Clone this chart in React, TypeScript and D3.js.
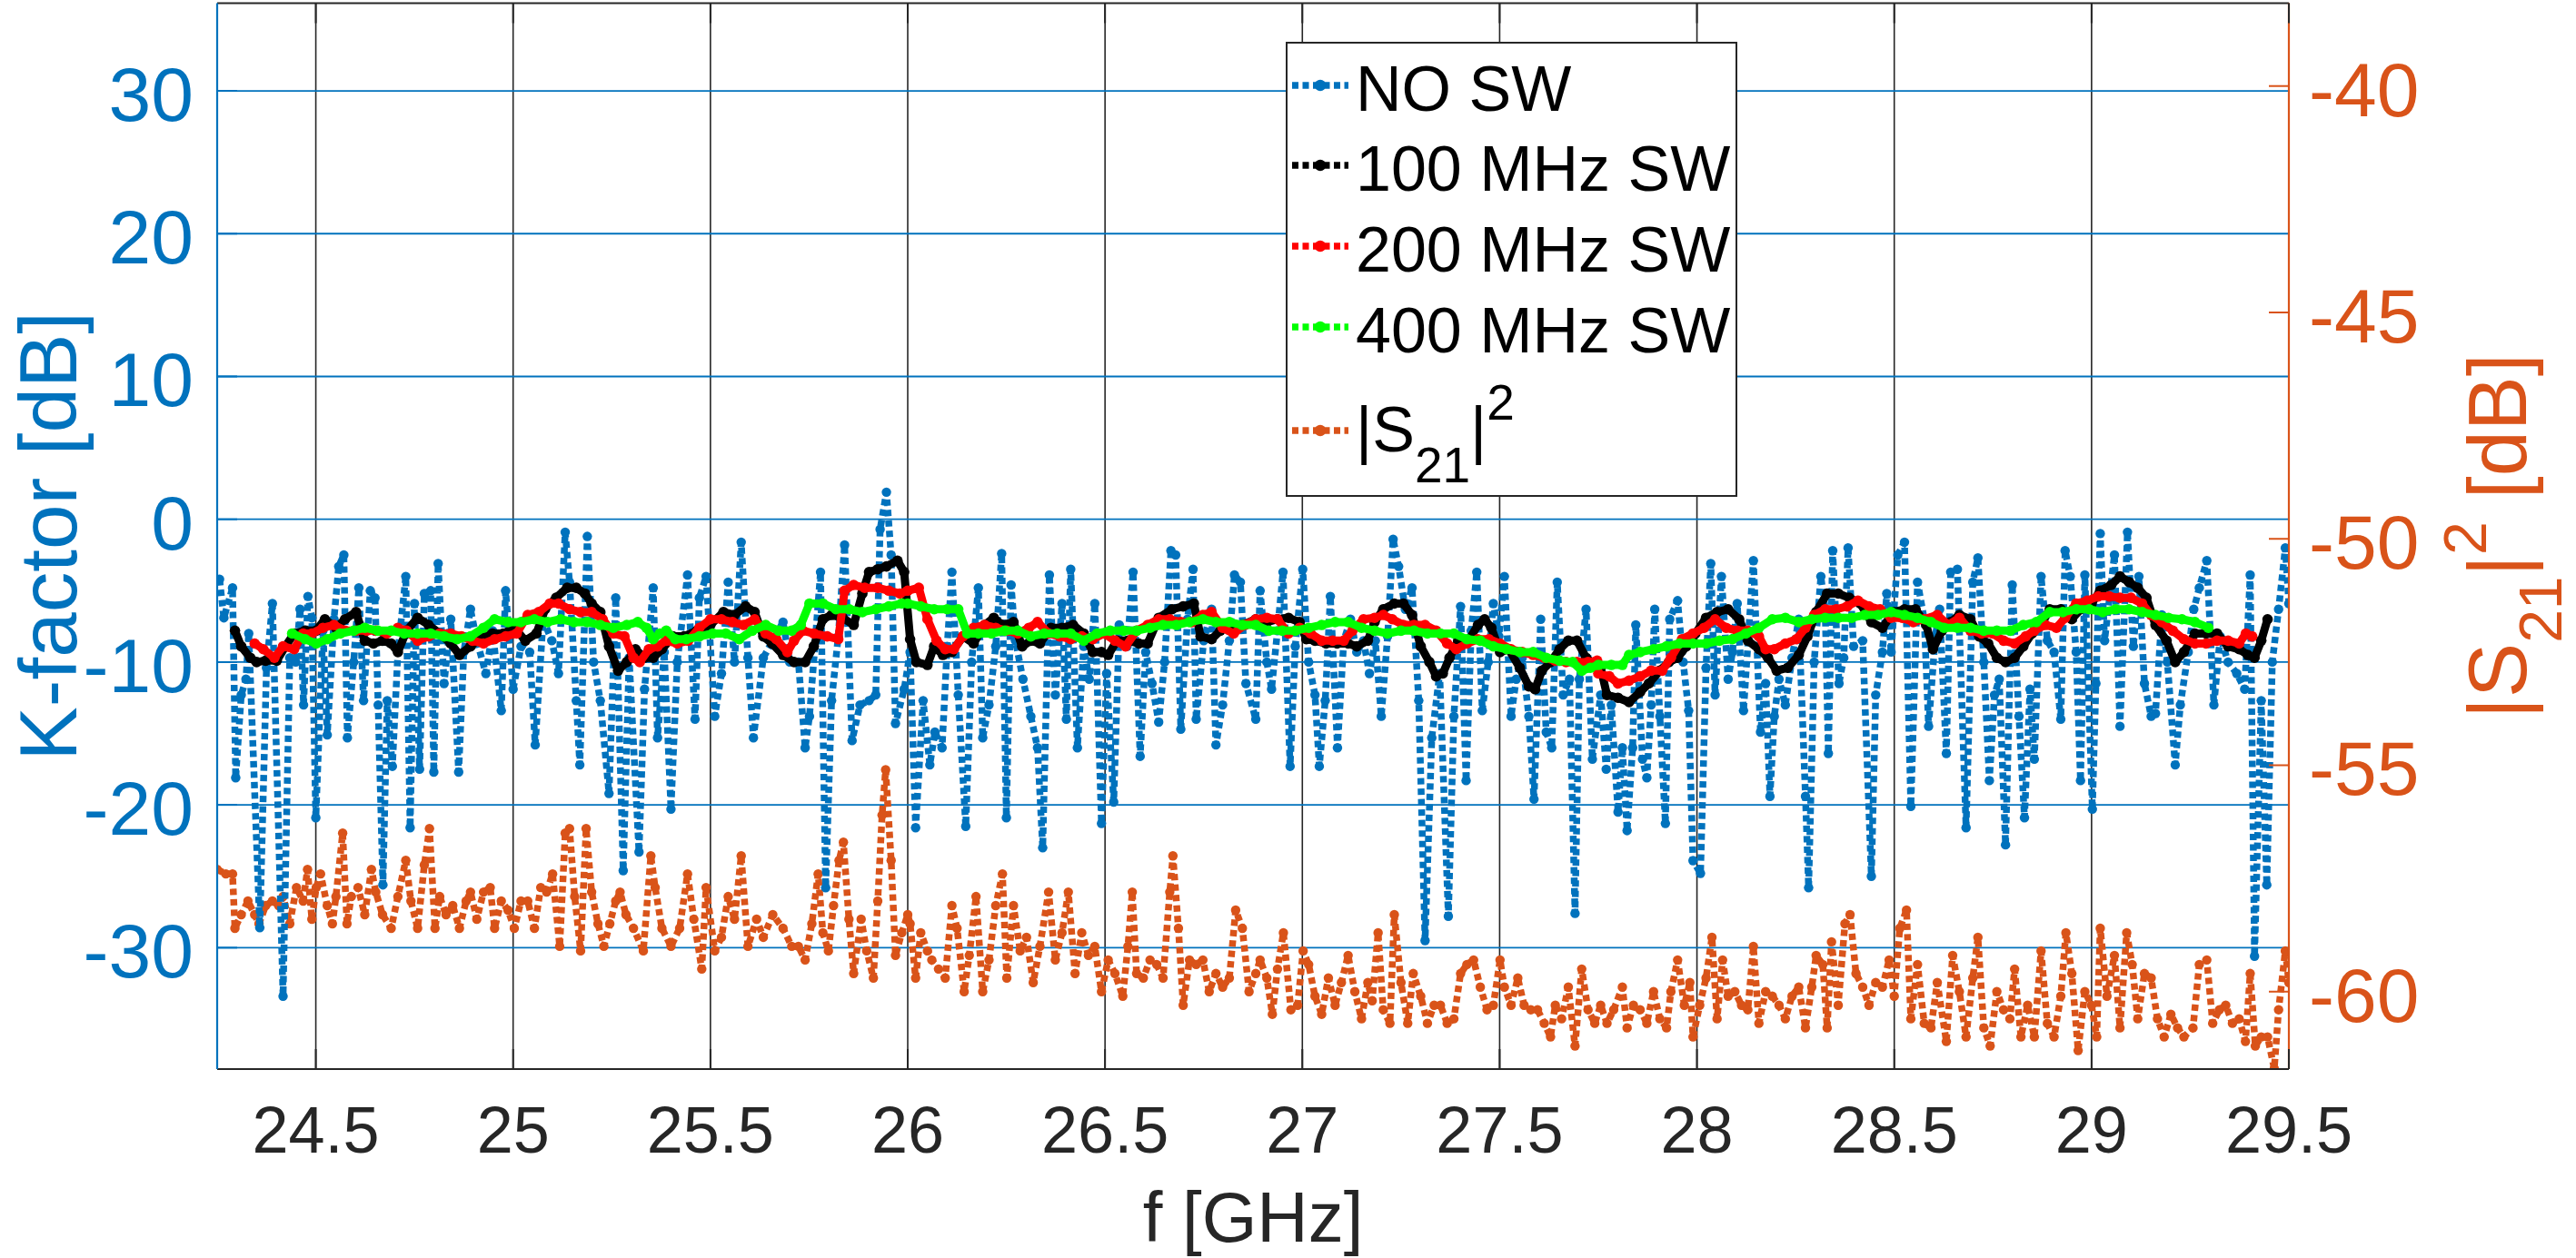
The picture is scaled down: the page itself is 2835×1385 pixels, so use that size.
import React from 'react';
import * as d3 from 'd3';

type P = [number, number];

// ---------- axes / ticks ----------
const xDomain: [number, number] = [24.25, 29.5];
const yLeftDomain: [number, number] = [-38.5, 36.14];
const yRightDomain: [number, number] = [-61.71, -38.17];
const xTicks = [24.5, 25, 25.5, 26, 26.5, 27, 27.5, 28, 28.5, 29, 29.5];
const yLeftTicks = [-30, -20, -10, 0, 10, 20, 30];
const yRightTicks = [-60, -55, -50, -45, -40];

const legendLabels = ['NO SW', '100 MHz SW', '200 MHz SW', '400 MHz SW'];

// ---------- data: K-factor without sliding window [GHz, dB] ----------
const noSW: P[] = [
  [24.256,-4.2],[24.267,-6.9],[24.289,-4.8],[24.297,-18.1],[24.311,-12.3],[24.323,-11.2],[24.330,-8.0],[24.358,-28.6],[24.375,-10.4],[24.390,-5.9],
  [24.417,-33.4],[24.434,-9.7],[24.449,-10.0],[24.460,-6.3],[24.469,-13.0],[24.480,-5.4],[24.490,-6.9],[24.500,-20.9],[24.518,-7.8],[24.529,-15.1],
  [24.546,-7.0],[24.558,-3.3],[24.571,-2.5],[24.580,-15.3],[24.596,-10.0],[24.609,-4.8],[24.621,-12.7],[24.638,-5.0],[24.650,-5.5],[24.658,-13.0],
  [24.670,-25.6],[24.681,-12.7],[24.694,-17.3],[24.708,-9.3],[24.728,-4.0],[24.739,-21.6],[24.750,-5.9],[24.763,-17.5],[24.775,-5.2],[24.791,-5.0],
  [24.799,-17.7],[24.810,-3.1],[24.825,-11.5],[24.842,-7.0],[24.862,-17.7],[24.875,-9.3],[24.892,-6.3],[24.908,-8.5],[24.931,-10.8],[24.948,-7.8],
  [24.970,-13.4],[24.981,-5.0],[25.000,-11.9],[25.020,-8.9],[25.042,-9.3],[25.056,-15.8],[25.076,-7.0],[25.098,-8.5],[25.115,-10.8],[25.132,-0.9],
  [25.143,-4.4],[25.160,-12.7],[25.169,-17.2],[25.188,-1.2],[25.204,-10.0],[25.221,-12.7],[25.243,-19.2],[25.260,-5.5],[25.279,-24.6],[25.294,-9.7],
  [25.319,-23.3],[25.333,-11.9],[25.355,-4.8],[25.366,-15.3],[25.383,-9.3],[25.400,-20.3],[25.416,-10.0],[25.442,-3.9],[25.461,-14.0],[25.472,-5.5],
  [25.489,-4.0],[25.511,-13.8],[25.528,-10.8],[25.545,-4.4],[25.561,-10.0],[25.578,-1.6],[25.595,-9.7],[25.609,-15.3],[25.634,-9.7],[25.658,-8.5],
  [25.684,-7.2],[25.701,-10.0],[25.723,-10.0],[25.740,-16.0],[25.751,-13.8],[25.779,-3.7],[25.792,-25.8],[25.807,-12.7],[25.824,-8.2],[25.840,-1.8],
  [25.859,-15.5],[25.879,-13.0],[25.902,-12.7],[25.919,-12.3],[25.930,-0.7],[25.946,1.9],[25.958,-2.5],[25.969,-14.3],[25.991,-11.9],
  [26.006,-9.3],[26.020,-21.6],[26.039,-12.7],[26.056,-17.2],[26.069,-14.9],[26.087,-16.0],[26.100,-8.9],[26.112,-3.7],[26.128,-12.3],[26.147,-21.5],
  [26.162,-10.0],[26.179,-4.8],[26.190,-15.3],[26.206,-13.0],[26.223,-8.9],[26.238,-2.4],[26.250,-20.9],[26.262,-4.6],[26.273,-8.5],[26.292,-11.2],
  [26.312,-13.8],[26.329,-16.0],[26.342,-23.0],[26.359,-3.9],[26.374,-12.3],[26.391,-5.9],[26.402,-14.0],[26.413,-3.5],[26.430,-16.0],[26.446,-8.9],
  [26.460,-11.2],[26.474,-5.9],[26.491,-21.3],[26.504,-10.8],[26.522,-19.8],[26.536,-7.4],[26.556,-8.9],[26.571,-3.7],[26.589,-16.6],[26.603,-9.3],
  [26.619,-11.5],[26.636,-14.2],[26.651,-10.0],[26.667,-2.2],[26.679,-2.5],[26.692,-14.7],[26.709,-7.0],[26.723,-3.5],[26.731,-14.0],[26.750,-8.5],
  [26.770,-6.3],[26.781,-15.8],[26.798,-13.0],[26.815,-8.5],[26.828,-3.9],[26.843,-4.4],[26.857,-11.5],[26.882,-14.0],[26.893,-5.0],[26.910,-10.0],
  [26.922,-11.9],[26.937,-7.8],[26.951,-3.7],[26.969,-17.3],[26.982,-8.9],[27.001,-3.5],[27.016,-10.0],[27.032,-12.3],[27.043,-17.3],[27.058,-12.7],
  [27.071,-5.4],[27.089,-16.0],[27.105,-8.5],[27.122,-7.0],[27.138,-9.3],[27.155,-8.5],[27.170,-10.8],[27.185,-8.5],[27.200,-13.8],[27.216,-8.2],
  [27.230,-1.4],[27.244,-3.3],[27.261,-6.3],[27.278,-4.8],[27.295,-12.7],[27.311,-29.5],[27.328,-15.3],[27.348,-10.8],[27.370,-27.8],[27.384,-13.8],
  [27.401,-6.1],[27.415,-18.3],[27.428,-7.8],[27.442,-3.7],[27.456,-13.4],[27.471,-10.0],[27.484,-5.9],[27.498,-8.2],[27.512,-4.0],[27.529,-13.8],
  [27.542,-11.2],[27.557,-9.7],[27.574,-13.8],[27.587,-19.6],[27.604,-7.0],[27.618,-14.9],[27.632,-16.0],[27.646,-4.4],[27.661,-12.3],[27.677,-11.2],
  [27.691,-27.6],[27.702,-11.2],[27.719,-6.3],[27.735,-16.8],
  [27.756,-12.3],[27.770,-17.5],[27.783,-13.0],[27.800,-20.5],[27.811,-16.0],[27.823,-21.8],[27.837,-16.0],[27.845,-7.4],[27.862,-16.8],[27.873,-18.1],
  [27.884,-13.0],[27.893,-6.3],[27.906,-13.8],[27.920,-21.3],[27.931,-7.0],[27.951,-5.7],[27.965,-10.0],[27.979,-13.4],[27.990,-23.9],[28.009,-24.8],
  [28.023,-10.4],[28.035,-3.1],[28.046,-12.3],[28.062,-4.0],[28.079,-11.2],[28.090,-9.3],[28.102,-5.9],[28.118,-13.4],[28.143,-2.9],[28.161,-14.9],
  [28.174,-11.5],[28.185,-19.4],[28.196,-13.8],[28.208,-11.2],[28.224,-13.0],[28.241,-9.7],[28.258,-7.0],[28.275,-19.4],[28.283,-25.8],[28.297,-10.0],
  [28.314,-4.0],[28.325,-6.3],[28.333,-16.4],[28.344,-2.2],[28.360,-11.5],[28.372,-9.7],[28.383,-2.0],[28.397,-8.9],[28.420,-8.5],[28.442,-25.0],
  [28.453,-12.3],[28.470,-9.3],[28.481,-5.2],[28.492,-9.3],[28.509,-2.5],[28.526,-1.6],[28.542,-20.1],[28.559,-4.4],[28.576,-7.0],[28.587,-14.5],
  [28.604,-8.2],[28.615,-6.3],[28.632,-16.4],[28.643,-3.7],[28.660,-3.5],[28.682,-21.6],[28.699,-4.4],[28.712,-2.7],[28.727,-10.0],[28.741,-18.3],
  [28.754,-12.3],[28.766,-11.2],[28.782,-22.8],[28.799,-4.6],[28.816,-13.8],[28.830,-20.9],[28.844,-11.9],[28.855,-16.8],[28.872,-4.0],[28.888,-8.5],
  [28.905,-9.3],[28.922,-14.0],[28.933,-2.2],[28.946,-4.0],[28.961,-9.3],[28.972,-18.3],[28.983,-3.9],[29.002,-20.3],[29.011,-11.5],[29.022,-1.0],
  [29.033,-8.5],[29.058,-2.5],[29.072,-14.5],[29.091,-0.9],[29.106,-8.9],[29.120,-4.0],[29.134,-11.5],[29.151,-13.8],[29.162,-13.6],[29.178,-6.7],
  [29.192,-10.0],[29.212,-17.2],[29.225,-13.0],[29.245,-9.3],[29.259,-6.3],[29.273,-4.8],[29.292,-2.9],[29.310,-13.0],[29.326,-8.2],[29.346,-10.0],
  [29.368,-10.8],[29.388,-11.9],[29.402,-3.9],[29.413,-30.6],[29.430,-12.7],[29.444,-25.6],[29.458,-10.0],[29.474,-6.3],[29.491,-2.0],[29.500,-5.9],
];

// ---------- K-factor with 100 MHz sliding window ----------
const sw100: P[] = [
  [24.295,-7.8],[24.311,-8.9],[24.334,-9.7],[24.350,-10.0],[24.373,-9.9],[24.401,-9.9],[24.423,-8.9],[24.445,-8.0],[24.473,-7.8],[24.501,-7.8],
  [24.523,-7.0],[24.551,-7.6],[24.574,-7.0],[24.602,-6.5],[24.624,-8.5],[24.646,-8.7],[24.669,-8.5],[24.691,-8.7],[24.708,-9.3],[24.730,-7.8],
  [24.758,-6.9],[24.786,-7.4],[24.814,-8.0],[24.842,-8.7],[24.864,-9.5],[24.892,-8.9],[24.920,-8.2],[24.948,-8.0],[24.975,-8.0],[25.003,-7.6],
  [25.031,-8.5],[25.059,-8.0],[25.081,-6.3],[25.109,-5.5],[25.137,-4.8],[25.160,-4.8],[25.182,-5.2],[25.199,-5.9],[25.221,-6.5],[25.243,-8.9],
  [25.266,-10.6],[25.288,-10.0],[25.310,-9.1],[25.333,-9.7],[25.355,-9.7],[25.377,-9.1],[25.405,-8.2],[25.433,-8.2],[25.466,-7.8],[25.500,-7.4],
  [25.533,-6.5],[25.561,-6.7],[25.589,-6.1],[25.612,-6.5],[25.634,-8.2],[25.656,-8.7],[25.684,-9.5],[25.712,-10.0],[25.740,-10.0],[25.762,-8.9],
  [25.785,-7.0],[25.807,-6.7],[25.835,-6.9],[25.863,-7.4],[25.885,-5.2],[25.902,-3.7],[25.924,-3.5],[25.946,-3.3],[25.974,-2.9],[25.991,-3.7],
  [26.006,-8.4],[26.022,-10.0],[26.050,-10.2],[26.067,-8.9],[26.089,-9.5],[26.112,-9.3],[26.140,-8.2],[26.167,-8.7],[26.195,-7.4],[26.218,-6.9],
  [26.240,-7.4],[26.268,-7.2],[26.290,-8.9],[26.312,-8.5],[26.335,-8.7],[26.363,-7.6],[26.391,-7.6],[26.419,-7.4],[26.446,-8.0],[26.469,-9.3],
  [26.491,-9.3],[26.508,-9.5],[26.530,-8.5],[26.558,-8.5],[26.586,-8.7],[26.608,-8.7],[26.636,-6.9],[26.670,-6.3],[26.698,-6.1],[26.725,-5.9],
  [26.742,-8.2],[26.770,-8.4],[26.792,-7.8],[26.820,-7.4],[26.848,-7.4],[26.882,-7.0],[26.910,-7.2],[26.937,-7.0],[26.965,-6.9],[26.993,-7.2],
  [27.010,-8.4],[27.032,-8.5],[27.060,-8.7],[27.088,-8.7],[27.116,-8.7],[27.138,-8.9],[27.166,-8.5],[27.183,-7.2],[27.205,-6.3],[27.233,-5.9],
  [27.256,-5.9],[27.278,-6.7],[27.300,-8.9],[27.322,-10.0],[27.339,-11.0],[27.356,-10.8],[27.373,-9.7],[27.395,-8.5],[27.423,-8.4],[27.445,-7.4],
  [27.462,-7.0],[27.479,-7.6],[27.501,-9.3],[27.523,-9.1],[27.551,-10.4],[27.574,-11.7],[27.590,-11.9],[27.607,-10.6],[27.629,-10.0],[27.652,-9.1],
  [27.674,-8.5],[27.696,-8.5],[27.719,-9.7],[27.741,-10.2],
  [27.756,-10.4],[27.772,-12.3],[27.800,-12.5],[27.828,-12.8],[27.856,-12.1],[27.878,-11.5],[27.906,-10.6],[27.929,-10.0],[27.951,-9.7],[27.973,-8.9],
  [27.996,-8.0],[28.023,-6.9],[28.051,-6.5],[28.079,-6.3],[28.107,-7.0],[28.129,-8.5],[28.157,-9.1],[28.180,-9.7],[28.202,-10.6],[28.230,-10.4],
  [28.258,-9.5],[28.280,-8.2],[28.302,-6.5],[28.330,-5.2],[28.358,-5.2],[28.386,-5.5],[28.414,-5.9],[28.442,-7.2],[28.470,-7.6],[28.498,-6.5],
  [28.526,-6.3],[28.554,-6.3],[28.581,-7.4],[28.598,-9.1],[28.621,-7.8],[28.643,-7.2],[28.665,-6.7],[28.693,-7.0],[28.715,-8.2],[28.738,-8.7],
  [28.760,-9.7],[28.782,-10.0],[28.805,-9.7],[28.827,-8.9],[28.849,-8.0],[28.872,-7.4],[28.894,-6.3],[28.922,-6.3],[28.950,-7.0],[28.972,-6.3],
  [29.000,-5.9],[29.022,-5.0],[29.050,-4.6],[29.072,-4.0],[29.095,-4.4],[29.117,-4.8],[29.139,-5.5],[29.162,-7.4],[29.190,-8.5],[29.212,-10.0],
  [29.234,-9.3],[29.262,-8.0],[29.290,-8.0],[29.318,-8.0],[29.346,-8.9],[29.374,-9.1],[29.396,-9.5],[29.413,-9.7],[29.430,-8.5],[29.446,-7.0],
];

// ---------- K-factor with 200 MHz sliding window ----------
const sw200: P[] = [
  [24.345,-8.7],[24.367,-9.1],[24.395,-9.7],[24.417,-8.9],[24.445,-9.1],[24.468,-8.0],[24.490,-8.0],[24.518,-7.6],[24.546,-7.4],[24.574,-7.8],
  [24.602,-7.8],[24.629,-7.8],[24.652,-7.8],[24.680,-8.0],[24.708,-7.6],[24.730,-7.8],[24.758,-8.5],[24.786,-8.2],[24.814,-8.0],[24.842,-8.0],
  [24.869,-8.2],[24.897,-8.5],[24.925,-8.7],[24.953,-8.4],[24.981,-8.2],[25.009,-8.0],[25.037,-6.7],[25.065,-6.5],[25.093,-5.9],[25.115,-5.9],
  [25.143,-6.3],[25.171,-6.5],[25.199,-6.5],[25.227,-7.0],[25.254,-8.0],[25.282,-8.2],[25.305,-9.7],[25.321,-10.0],[25.344,-9.1],[25.366,-8.9],
  [25.388,-8.5],[25.416,-8.7],[25.444,-8.5],[25.472,-7.6],[25.500,-7.0],[25.528,-7.0],[25.556,-7.2],[25.584,-7.4],[25.612,-7.0],[25.640,-8.0],
  [25.667,-8.4],[25.695,-9.3],[25.712,-8.5],[25.734,-7.8],[25.762,-8.0],[25.796,-8.2],[25.824,-8.4],[25.840,-5.0],[25.863,-4.6],[25.891,-4.8],
  [25.924,-4.8],[25.952,-5.0],[25.980,-5.2],
  [26.000,-5.0],[26.028,-4.8],[26.050,-7.0],[26.073,-8.5],[26.095,-9.1],[26.117,-9.1],[26.140,-8.2],[26.167,-7.6],[26.195,-7.4],[26.223,-7.6],
  [26.251,-7.8],[26.279,-8.0],[26.307,-7.6],[26.329,-7.2],[26.357,-8.0],[26.385,-8.2],[26.413,-8.4],[26.441,-8.2],[26.469,-8.4],[26.497,-8.0],
  [26.525,-8.5],[26.552,-8.9],[26.580,-7.8],[26.608,-7.4],[26.636,-7.0],[26.664,-7.0],[26.692,-7.2],[26.720,-7.2],[26.748,-6.7],[26.770,-6.5],
  [26.798,-7.6],[26.826,-8.0],[26.854,-7.4],[26.882,-7.0],[26.910,-6.9],[26.937,-7.0],[26.965,-8.0],[26.993,-7.6],[27.021,-8.0],[27.049,-8.5],
  [27.077,-8.5],[27.105,-8.5],[27.127,-7.8],[27.155,-7.0],[27.183,-6.9],[27.205,-6.7],[27.228,-7.0],[27.256,-7.4],[27.283,-7.4],[27.311,-7.4],
  [27.339,-7.8],[27.367,-8.7],[27.390,-9.1],[27.417,-8.7],[27.445,-8.4],[27.473,-8.4],[27.501,-8.7],[27.529,-9.1],[27.557,-9.3],[27.585,-9.5],
  [27.613,-9.7],[27.641,-9.9],[27.668,-10.0],[27.696,-10.0],[27.724,-10.0],[27.747,-9.9],
  [27.750,-10.8],[27.778,-11.0],[27.800,-11.5],[27.828,-11.3],[27.856,-11.0],[27.884,-10.6],[27.912,-10.6],[27.934,-9.7],[27.962,-8.4],[27.990,-8.0],
  [28.018,-7.6],[28.046,-7.0],[28.074,-7.6],[28.102,-7.8],[28.129,-7.8],[28.157,-8.2],[28.174,-9.1],[28.196,-9.1],[28.224,-8.7],[28.252,-8.4],
  [28.275,-7.6],[28.297,-6.7],[28.325,-6.3],[28.353,-6.3],[28.381,-6.1],[28.408,-5.7],[28.436,-6.1],[28.464,-6.3],[28.492,-6.9],[28.520,-6.9],
  [28.548,-7.2],[28.576,-7.0],[28.609,-6.7],[28.637,-7.4],[28.665,-6.9],[28.693,-7.8],[28.721,-8.0],[28.749,-8.0],[28.777,-8.5],[28.805,-8.7],
  [28.833,-8.2],[28.855,-7.8],[28.883,-7.4],[28.911,-7.6],[28.933,-6.9],[28.961,-5.9],[28.989,-5.7],[29.017,-5.4],[29.045,-5.4],[29.072,-5.5],
  [29.100,-5.5],[29.128,-5.9],[29.151,-6.7],[29.178,-7.2],[29.206,-7.8],[29.234,-8.4],[29.262,-8.7],[29.290,-8.7],[29.318,-8.5],[29.346,-8.5],
  [29.374,-8.7],[29.391,-8.0],[29.407,-8.2],
];

// ---------- K-factor with 400 MHz sliding window ----------
const sw400: P[] = [
  [24.440,-8.0],[24.473,-8.4],[24.501,-8.7],[24.529,-8.4],[24.562,-8.0],[24.596,-7.8],[24.624,-7.6],[24.657,-7.8],[24.691,-7.8],[24.724,-8.0],
  [24.758,-8.0],[24.791,-8.0],[24.825,-8.2],[24.858,-8.4],[24.892,-8.2],[24.925,-7.6],[24.953,-7.0],[24.987,-7.2],[25.020,-7.2],[25.054,-7.0],
  [25.087,-7.2],[25.120,-7.0],[25.154,-7.2],[25.188,-7.2],[25.221,-7.4],[25.254,-7.6],[25.288,-7.4],[25.316,-7.2],[25.338,-7.6],[25.355,-8.4],
  [25.372,-8.0],[25.388,-7.8],[25.411,-8.4],[25.439,-8.4],[25.472,-8.2],[25.506,-8.0],[25.539,-8.0],[25.573,-8.4],[25.606,-7.8],[25.640,-7.4],
  [25.673,-7.8],[25.706,-7.8],[25.729,-7.4],[25.751,-5.9],[25.785,-5.9],[25.818,-6.3],[25.852,-6.3],[25.885,-6.5],[25.919,-6.3],[25.952,-6.1],
  [25.985,-5.9],
  [26.000,-5.9],[26.033,-6.1],[26.067,-6.3],[26.100,-6.3],[26.128,-6.3],[26.151,-8.0],[26.179,-8.0],[26.212,-8.0],[26.246,-7.8],[26.279,-7.8],
  [26.312,-8.2],[26.346,-8.0],[26.379,-8.0],[26.413,-8.0],[26.446,-8.5],[26.480,-8.0],[26.513,-7.8],[26.547,-7.8],[26.580,-7.8],[26.614,-7.6],
  [26.647,-7.4],[26.681,-7.4],[26.714,-7.2],[26.748,-7.0],[26.781,-7.2],[26.815,-7.2],[26.848,-7.4],[26.882,-7.4],[26.915,-7.8],[26.949,-7.8],
  [26.982,-7.8],[27.016,-7.6],[27.049,-7.4],[27.083,-7.2],[27.116,-7.2],[27.150,-7.6],[27.183,-7.8],[27.216,-8.0],[27.250,-7.8],[27.283,-7.8],
  [27.317,-8.0],[27.350,-8.0],[27.384,-8.0],[27.417,-8.4],[27.451,-8.5],[27.484,-8.9],[27.518,-9.1],[27.551,-9.3],[27.585,-9.3],[27.618,-9.7],
  [27.652,-9.9],[27.685,-10.0],[27.708,-10.6],[27.730,-10.4],
  [27.750,-10.2],[27.783,-10.2],[27.811,-10.2],[27.828,-9.5],[27.856,-9.3],[27.890,-9.1],[27.923,-8.9],[27.956,-8.7],[27.990,-8.7],[28.023,-8.7],
  [28.057,-8.5],[28.090,-8.4],[28.124,-8.0],[28.157,-7.6],[28.191,-7.0],[28.224,-6.9],[28.258,-7.2],[28.291,-7.0],[28.325,-6.9],[28.358,-6.9],
  [28.392,-6.9],[28.425,-6.7],[28.459,-6.7],[28.492,-6.5],[28.526,-6.7],[28.559,-6.9],[28.593,-7.2],[28.626,-7.6],[28.660,-7.6],[28.693,-7.6],
  [28.727,-7.8],[28.760,-7.8],[28.794,-7.8],[28.827,-7.4],[28.860,-7.2],[28.894,-6.5],[28.927,-6.5],[28.961,-6.3],[28.994,-6.3],[29.028,-6.5],
  [29.061,-6.3],[29.095,-6.3],[29.128,-6.5],[29.162,-6.7],[29.195,-6.9],[29.229,-7.0],[29.262,-7.2],[29.296,-7.6],
];

// ---------- |S21|^2 [dB] (right axis) ----------
const s21: P[] = [
  [24.250,-57.3],[24.272,-57.4],[24.289,-57.4],[24.295,-58.6],[24.311,-58.3],[24.328,-58.0],[24.345,-58.3],[24.356,-58.5],[24.373,-58.1],[24.390,-58.0],
  [24.406,-58.1],[24.417,-57.9],[24.434,-58.5],[24.451,-57.7],[24.468,-58.0],[24.479,-57.3],[24.490,-58.4],[24.501,-57.7],[24.512,-57.4],[24.529,-58.1],
  [24.542,-58.5],[24.551,-57.9],[24.568,-56.5],[24.579,-58.5],[24.590,-57.9],[24.607,-57.7],[24.624,-58.3],[24.641,-57.3],[24.652,-57.8],[24.669,-58.3],
  [24.691,-58.6],[24.708,-57.9],[24.728,-57.1],[24.741,-58.0],[24.758,-58.6],[24.775,-57.2],[24.788,-56.4],[24.802,-58.6],[24.814,-57.9],[24.830,-58.3],
  [24.847,-58.1],[24.864,-58.6],[24.881,-58.0],[24.892,-57.8],[24.908,-58.4],[24.925,-57.8],[24.942,-57.7],[24.953,-58.6],[24.970,-58.0],[24.987,-58.2],
  [25.003,-58.6],[25.020,-58.0],[25.037,-58.0],[25.054,-58.6],[25.070,-57.7],[25.085,-57.8],[25.100,-57.4],[25.118,-59.0],[25.132,-56.5],[25.143,-56.4],
  [25.156,-57.9],[25.171,-59.1],[25.185,-56.4],[25.199,-57.8],[25.215,-58.5],[25.230,-59.0],[25.245,-58.5],[25.260,-58.0],[25.271,-57.8],[25.286,-58.3],
  [25.305,-58.6],[25.330,-59.1],[25.349,-57.0],[25.360,-57.7],[25.377,-58.6],[25.400,-59.0],[25.422,-58.6],[25.442,-57.4],[25.458,-58.4],[25.478,-59.5],
  [25.489,-57.7],[25.511,-59.1],[25.528,-58.8],[25.545,-57.9],[25.561,-58.4],[25.578,-57.0],[25.595,-59.0],[25.617,-58.4],[25.634,-58.8],[25.658,-58.3],
  [25.684,-58.6],[25.706,-59.0],[25.723,-59.0],[25.740,-59.3],[25.757,-58.5],[25.773,-57.4],[25.785,-58.7],[25.799,-59.1],[25.812,-58.1],[25.826,-57.1],
  [25.837,-56.7],[25.851,-58.4],[25.863,-59.6],[25.882,-58.4],[25.896,-59.1],[25.913,-59.7],[25.924,-58.0],[25.935,-56.1],[25.944,-55.1],[25.958,-57.1],
  [25.969,-59.2],[25.985,-58.7],[26.000,-58.3],
  [26.006,-58.5],[26.020,-59.7],[26.033,-58.7],[26.050,-59.1],[26.061,-59.3],[26.078,-59.5],[26.095,-59.7],[26.112,-58.1],[26.125,-58.6],[26.143,-60.0],
  [26.156,-59.2],[26.173,-57.9],[26.190,-60.0],[26.206,-59.3],[26.223,-58.1],[26.240,-57.4],[26.251,-59.7],[26.268,-58.1],[26.285,-59.1],[26.301,-58.8],
  [26.318,-59.8],[26.335,-59.0],[26.357,-57.8],[26.374,-59.3],[26.391,-58.7],[26.407,-57.8],[26.424,-59.6],[26.441,-58.7],[26.458,-59.2],[26.474,-59.0],
  [26.491,-60.0],[26.508,-59.3],[26.525,-59.6],[26.545,-60.1],[26.558,-59.0],[26.569,-57.8],[26.580,-59.6],[26.597,-59.7],[26.614,-59.3],[26.631,-59.4],
  [26.647,-59.7],[26.664,-57.8],[26.672,-57.0],[26.686,-58.6],[26.698,-60.3],[26.714,-59.3],[26.731,-59.4],[26.748,-59.3],[26.764,-60.0],[26.781,-59.6],
  [26.798,-59.9],[26.815,-59.7],[26.831,-58.2],[26.848,-58.6],[26.865,-60.0],[26.882,-59.6],[26.893,-59.3],[26.910,-59.7],[26.924,-60.5],[26.937,-59.5],
  [26.952,-58.7],[26.971,-60.4],[26.988,-60.3],[27.002,-59.1],[27.016,-59.4],[27.032,-60.1],[27.049,-60.5],[27.066,-59.7],[27.083,-60.3],[27.099,-59.8],
  [27.116,-59.2],[27.133,-60.0],[27.150,-60.6],[27.166,-59.8],[27.177,-60.2],[27.192,-58.7],[27.205,-60.4],[27.222,-60.7],[27.233,-58.3],[27.250,-59.8],
  [27.267,-60.7],[27.281,-59.6],[27.300,-60.1],[27.317,-60.7],[27.334,-60.3],[27.350,-60.3],[27.367,-60.7],[27.384,-60.6],[27.401,-59.6],[27.417,-59.4],
  [27.434,-59.3],[27.451,-59.9],[27.468,-60.4],[27.484,-60.3],[27.501,-59.3],[27.512,-59.9],[27.529,-60.3],[27.546,-59.7],[27.562,-60.3],[27.579,-60.4],
  [27.596,-60.4],[27.613,-60.7],[27.629,-61.0],[27.641,-60.3],[27.657,-60.6],[27.674,-59.9],[27.691,-61.2],[27.708,-59.5],[27.724,-60.4],[27.741,-60.7],
  [27.756,-60.3],[27.772,-60.7],[27.789,-60.4],[27.811,-59.9],[27.823,-60.8],[27.839,-60.3],[27.856,-60.4],[27.873,-60.7],[27.890,-60.0],[27.906,-60.6],
  [27.923,-60.8],[27.934,-60.0],[27.951,-59.3],[27.968,-60.3],[27.982,-59.8],[27.990,-61.0],[28.007,-60.3],[28.023,-59.7],[28.038,-58.8],[28.051,-60.6],
  [28.065,-59.3],[28.079,-60.1],[28.096,-60.0],[28.113,-60.3],[28.129,-60.4],[28.143,-59.0],[28.157,-60.7],[28.174,-60.0],[28.191,-60.1],[28.208,-60.3],
  [28.224,-60.6],[28.241,-60.1],[28.258,-59.9],[28.275,-60.8],[28.291,-59.9],[28.302,-59.2],[28.319,-59.4],[28.330,-60.8],[28.341,-58.9],[28.358,-60.3],
  [28.375,-58.5],[28.388,-58.3],[28.403,-59.6],[28.420,-59.9],[28.436,-60.3],[28.453,-59.8],[28.470,-59.9],[28.487,-59.3],[28.500,-60.1],[28.514,-58.6],
  [28.531,-58.2],[28.542,-60.6],[28.559,-59.4],[28.576,-60.7],[28.593,-60.8],[28.609,-59.8],[28.632,-61.1],[28.648,-59.2],[28.665,-60.0],[28.682,-61.0],
  [28.699,-59.7],[28.712,-58.8],[28.727,-60.8],[28.743,-61.2],[28.760,-60.0],[28.777,-60.4],[28.793,-60.6],[28.805,-59.5],[28.821,-61.0],[28.838,-60.3],
  [28.855,-61.0],[28.872,-59.1],[28.888,-60.7],[28.905,-61.0],[28.922,-60.1],[28.935,-58.7],[28.950,-59.6],[28.966,-61.3],[28.983,-60.0],[29.000,-60.3],
  [29.013,-61.0],[29.022,-58.6],[29.039,-60.1],[29.058,-59.2],[29.072,-60.8],[29.089,-58.7],[29.103,-59.4],[29.117,-60.6],[29.134,-59.6],[29.151,-59.7],
  [29.167,-60.6],[29.184,-61.0],[29.201,-60.5],[29.218,-60.8],[29.234,-61.0],[29.257,-60.8],[29.273,-59.4],[29.292,-59.3],[29.307,-60.7],[29.324,-60.4],
  [29.340,-60.3],[29.357,-60.7],[29.374,-60.6],[29.390,-61.1],[29.402,-59.6],[29.415,-61.2],[29.430,-61.0],[29.446,-61.0],[29.463,-61.7],[29.474,-60.4],
  [29.491,-59.1],[29.500,-59.8],
];

// ---------- styling ----------
const W = 2835;
const H = 1385;
const PLOT = { left: 239, right: 2519, top: 3.5, bottom: 1177 };
const FONT = "'Liberation Sans', Arial, Helvetica, sans-serif";
const BLUE = '#0072BD';
const ORANGE = '#D95319';
const AXIS = '#262626';
const colors = { noSW: BLUE, sw100: '#000000', sw200: '#FF0000', sw400: '#00FF00', s21: ORANGE };
const DOT_W = 7.5;
const DOT_DASH = '7 4.5';
const MARK_R = 5.2;
const TICK_LEN = 22;

export default function App() {
  const x = d3.scaleLinear().domain(xDomain).range([PLOT.left, PLOT.right]);
  const yL = d3.scaleLinear().domain(yLeftDomain).range([PLOT.bottom, PLOT.top]);
  const yR = d3.scaleLinear().domain(yRightDomain).range([PLOT.bottom, PLOT.top]);

  const lineL = d3.line<P>().x((d) => x(d[0])).y((d) => yL(d[1]));
  const lineR = d3.line<P>().x((d) => x(d[0])).y((d) => yR(d[1]));

  const dotted = (data: P[], gen: d3.Line<P>, yS: d3.ScaleLinear<number, number>, color: string, key: string) => (
    <g key={key}>
      <path d={gen(data) || ''} fill="none" stroke={color} strokeWidth={DOT_W} strokeDasharray={DOT_DASH} strokeLinecap="butt" strokeLinejoin="round" />
      {data.map((d, i) => (
        <circle key={i} cx={x(d[0])} cy={yS(d[1])} r={MARK_R} fill={color} />
      ))}
    </g>
  );

  const smooth = (data: P[], color: string, key: string) => (
    <g key={key}>
      <path d={lineL(data) || ''} fill="none" stroke={color} strokeWidth={9} strokeLinejoin="round" strokeLinecap="round" />
      {data.map((d, i) => (
        <circle key={i} cx={x(d[0])} cy={yL(d[1])} r={5.8} fill={color} />
      ))}
    </g>
  );

  // legend layout
  const LG = { x0: 1416, x1: 1911, y0: 47, y1: 546, lineX0: 1422, lineX1: 1484, markX: 1453, textX: 1492 };
  const rowCenters = [94, 182, 271, 360, 474];
  const legendColors = [colors.noSW, colors.sw100, colors.sw200, colors.sw400, colors.s21];

  const xFmt = d3.format('');
  const midY = (PLOT.top + PLOT.bottom) / 2;

  return (
    <svg width={W} height={H} viewBox={`0 0 ${W} ${H}`} style={{ position: 'absolute', left: 0, top: 0, display: 'block', background: '#fff' }} fontFamily={FONT}>
      <rect x={0} y={0} width={W} height={H} fill="#fff" />
      <defs>
        <clipPath id="plotClip">
          <rect x={PLOT.left} y={PLOT.top} width={PLOT.right - PLOT.left} height={PLOT.bottom - PLOT.top} />
        </clipPath>
      </defs>

      {/* grid */}
      {xTicks.map((t) => (
        <line key={'gx' + t} x1={x(t)} x2={x(t)} y1={PLOT.top} y2={PLOT.bottom} stroke={AXIS} strokeWidth={1.6} />
      ))}
      {yLeftTicks.map((t) => (
        <line key={'gy' + t} x1={PLOT.left} x2={PLOT.right} y1={yL(t)} y2={yL(t)} stroke={BLUE} strokeWidth={1.8} />
      ))}

      {/* data */}
      <g clipPath="url(#plotClip)">
        {dotted(s21, lineR, yR, colors.s21, 's21')}
        {dotted(noSW, lineL, yL, colors.noSW, 'nosw')}
        {smooth(sw100, colors.sw100, 'sw100')}
        {smooth(sw200, colors.sw200, 'sw200')}
        {smooth(sw400, colors.sw400, 'sw400')}
      </g>

      {/* axes box */}
      <line x1={PLOT.left} x2={PLOT.right} y1={PLOT.top} y2={PLOT.top} stroke={AXIS} strokeWidth={2.2} />
      <line x1={PLOT.left} x2={PLOT.right} y1={PLOT.bottom} y2={PLOT.bottom} stroke={AXIS} strokeWidth={2.2} />
      <line x1={PLOT.left} x2={PLOT.left} y1={PLOT.top} y2={PLOT.bottom} stroke={BLUE} strokeWidth={2.2} />
      <line x1={PLOT.right} x2={PLOT.right} y1={PLOT.top} y2={PLOT.bottom} stroke={ORANGE} strokeWidth={2.2} />

      {/* ticks */}
      {xTicks.map((t) => (
        <g key={'tx' + t}>
          <line x1={x(t)} x2={x(t)} y1={PLOT.bottom} y2={PLOT.bottom - TICK_LEN} stroke={AXIS} strokeWidth={2} />
          <line x1={x(t)} x2={x(t)} y1={PLOT.top} y2={PLOT.top + TICK_LEN} stroke={AXIS} strokeWidth={2} />
          <text x={x(t)} y={1269} fontSize={72} textAnchor="middle" fill={AXIS}>{xFmt(t)}</text>
        </g>
      ))}
      {yLeftTicks.map((t) => (
        <g key={'tl' + t}>
          <line x1={PLOT.left} x2={PLOT.left + TICK_LEN} y1={yL(t)} y2={yL(t)} stroke={BLUE} strokeWidth={2} />
          <text x={213} y={yL(t) + 33} fontSize={84} textAnchor="end" fill={BLUE}>{t}</text>
        </g>
      ))}
      {yRightTicks.map((t) => (
        <g key={'tr' + t}>
          <line x1={PLOT.right - TICK_LEN} x2={PLOT.right} y1={yR(t)} y2={yR(t)} stroke={ORANGE} strokeWidth={2} />
          <text x={2541} y={yR(t) + 33} fontSize={84} textAnchor="start" fill={ORANGE}>{t}</text>
        </g>
      ))}

      {/* axis labels */}
      <text x={(PLOT.left + PLOT.right) / 2} y={1367} fontSize={78} textAnchor="middle" fill={AXIS}>f [GHz]</text>
      <text transform={`translate(84, ${midY}) rotate(-90)`} fontSize={89} textAnchor="middle" fill={BLUE}>K-factor [dB]</text>
      <text transform={`translate(2780, ${midY}) rotate(-90)`} fontSize={90} textAnchor="middle" fill={ORANGE}>
        <tspan>|S</tspan>
        <tspan fontSize={66} dy={39}>21</tspan>
        <tspan dy={-39}>|</tspan>
        <tspan fontSize={66} dy={-44}>2</tspan>
        <tspan dy={44}> [dB]</tspan>
      </text>

      {/* legend */}
      <rect x={LG.x0} y={LG.y0} width={LG.x1 - LG.x0} height={LG.y1 - LG.y0} fill="#fff" stroke={AXIS} strokeWidth={2} />
      {rowCenters.map((cy, i) => (
        <g key={'lg' + i}>
          <line x1={LG.lineX0} x2={LG.lineX1} y1={cy} y2={cy} stroke={legendColors[i]} strokeWidth={DOT_W} strokeDasharray={DOT_DASH} />
          <circle cx={LG.markX} cy={cy} r={MARK_R + 1} fill={legendColors[i]} />
        </g>
      ))}
      {legendLabels.map((lab, i) => (
        <text key={'lt' + i} x={LG.textX} y={rowCenters[i] + 28} fontSize={70} fill="#000">{lab}</text>
      ))}
      <text x={LG.textX} y={rowCenters[4] + 23} fontSize={70} fill="#000">
        <tspan>|S</tspan>
        <tspan fontSize={55} dy={34}>21</tspan>
        <tspan dy={-34}>|</tspan>
        <tspan fontSize={55} dy={-35}>2</tspan>
      </text>
    </svg>
  );
}
